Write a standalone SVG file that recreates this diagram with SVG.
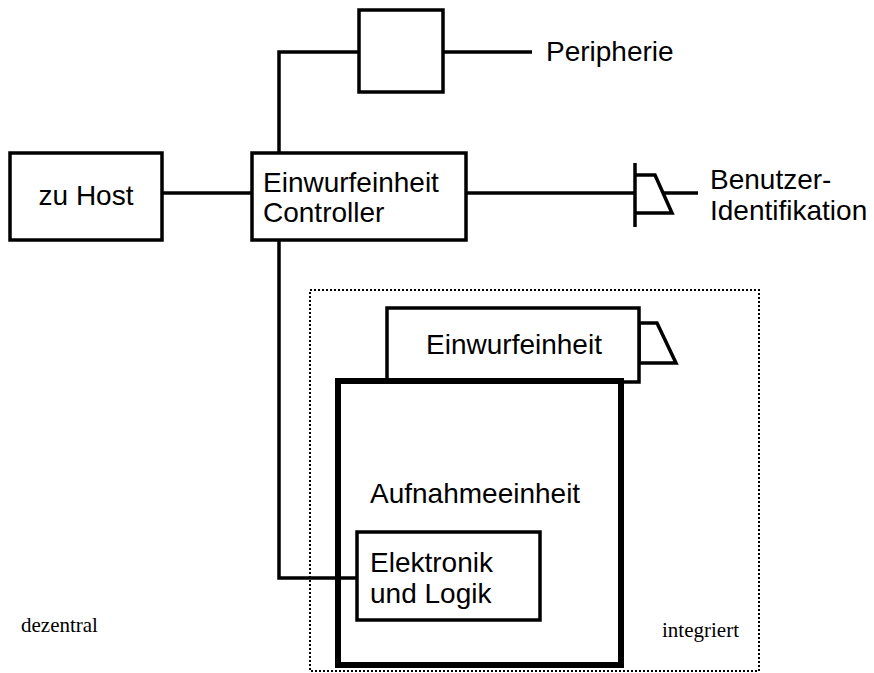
<svg xmlns="http://www.w3.org/2000/svg" width="874" height="673" viewBox="0 0 874 673">
<style>
.box{fill:#fff;stroke:#000;stroke-width:3.5}
.thick{fill:#fff;stroke:#000;stroke-width:6}
.ln{fill:none;stroke:#000;stroke-width:3.5}
.t{font-family:"Liberation Sans",Arial,sans-serif;font-size:28px;fill:#000}
.s{font-family:"Liberation Serif","Times New Roman",serif;font-size:21px;fill:#000}
</style>
<rect width="874" height="673" fill="#fff"/>
<g id="connectors">
<polyline class="ln" points="359,52 279,52 279,578 357,578"/>
<line class="ln" x1="443" y1="52" x2="532" y2="52"/>
<line class="ln" x1="162" y1="193" x2="252" y2="193"/>
<line class="ln" x1="466" y1="193" x2="635" y2="193"/>
<line class="ln" x1="664" y1="193" x2="698" y2="193"/>
</g>
<g id="zone-integriert">
<rect x="310" y="290" width="449" height="381" fill="none" stroke="#000" stroke-width="2" stroke-dasharray="2,2"/>
<text class="s" x="662" y="637">integriert</text>
</g>
<g id="zone-dezentral">
<text class="s" x="21" y="632">dezentral</text>
</g>
<g id="peripherie-box">
<rect class="box" x="359" y="10" width="84" height="82"/>
</g>
<g id="peripherie">
<text class="t" x="546" y="61">Peripherie</text>
</g>
<g id="zu-host">
<rect class="box" x="10" y="153" width="152" height="87"/>
<text class="t" x="86" y="205" text-anchor="middle">zu Host</text>
</g>
<g id="controller">
<rect class="box" x="252" y="153" width="214" height="87"/>
<text class="t" x="263" y="192">Einwurfeinheit</text>
<text class="t" x="263" y="222">Controller</text>
</g>
<g id="benutzer-identifikation">
<line class="ln" x1="635" y1="163" x2="635" y2="227"/>
<polyline class="ln" points="635,175 655,175 672,213 635,213"/>
<text class="t" x="710" y="189">Benutzer-</text>
<text class="t" x="710" y="220">Identifikation</text>
</g>
<g id="einwurfeinheit">
<polygon class="box" points="639,323 657,323 676,363 639,363"/>
<rect class="box" x="387" y="308" width="252" height="74"/>
<text class="t" x="514" y="354" text-anchor="middle">Einwurfeinheit</text>
</g>
<g id="aufnahmeeinheit">
<rect class="thick" x="338" y="381" width="283" height="284"/>
<text class="t" x="370" y="503">Aufnahmeeinheit</text>
</g>
<g id="elektronik">
<line class="ln" x1="338" y1="578" x2="357" y2="578"/>
<rect class="box" x="357" y="532" width="183" height="88"/>
<text class="t" x="370" y="572">Elektronik</text>
<text class="t" x="370" y="603">und Logik</text>
</g>
</svg>
